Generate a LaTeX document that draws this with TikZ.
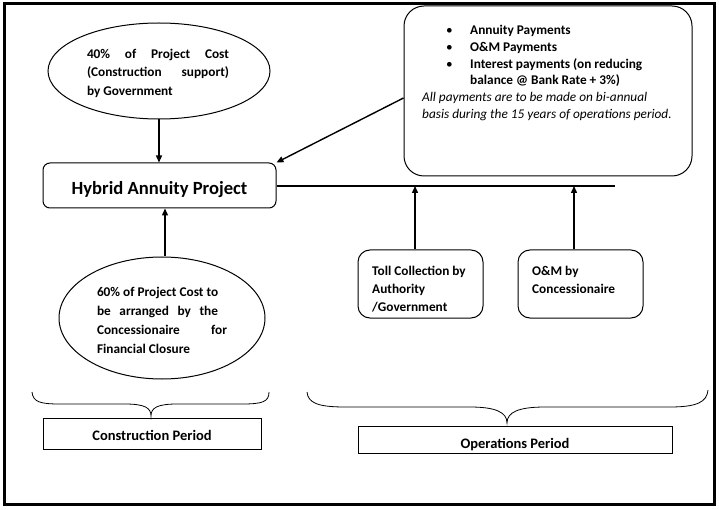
\documentclass[tikz,border=0pt]{standalone}
\usepackage{fontspec}
\setmainfont{Carlito}
\usetikzlibrary{arrows.meta,shapes.geometric}
\begin{document}
\begin{tikzpicture}[x=1pt,y=-1pt,
  body/.style={font=\fontsize{13.3}{18.5}\selectfont\bfseries},
  rbox/.style={draw,line width=1pt,rounded corners=7pt},
  oval/.style={draw,line width=1pt,ellipse,inner sep=0pt},
  plainbox/.style={draw,line width=0.8pt,inner sep=0pt},
  arr/.style={line width=1.4pt,-{Triangle[length=7pt,width=6pt]}},
  ln/.style={line width=1.4pt},
  brace/.style={line width=0.8pt}]
\useasboundingbox (0,0) rectangle (719,510);
\draw[line width=3pt] (4.5,3.5) rectangle (714,504.5);

% top ellipse
\node[oval,minimum width=222pt,minimum height=96pt] (gov) at (159,71) {};
\node[body,anchor=center,align=left,inner sep=0pt] (govt) at (158,73)
  {\makebox[142pt][s]{40\% of Project Cost}\\
   \makebox[142pt][s]{(Construction support)}\\
   by Government\hfill\null};

% hybrid annuity project
\node[rbox,minimum width=233pt,minimum height=45pt,inner sep=0pt,
  font=\fontsize{18.6}{20}\selectfont\bfseries] (hap) at (159.5,185.5)
  {\raisebox{-9.5pt}[0pt][0pt]{Hybrid Annuity Project}};

% bottom ellipse
\node[oval,minimum width=206pt,minimum height=122pt] (con) at (162,318) {};
\node[body,anchor=center,align=left,inner sep=0pt,
  font=\fontsize{13.3}{19}\selectfont\bfseries] (cont) at (162,320)
  {\makebox[130pt][l]{60\% of Project Cost to}\\
   \makebox[121pt][s]{be arranged by the}\hfill\null\\
   \makebox[130pt][s]{Concessionaire for}\\
   Financial Closure\hfill\null};

% payments box
\node[draw,line width=1pt,rounded corners=20pt,minimum width=288pt,minimum height=170pt,inner sep=0pt]
  (pay) at (548,91) {};
\node[anchor=north west,inner sep=0pt,align=left,
  font=\fontsize{13.3}{16.8}\selectfont] (payt) at (422,25)
  {\hspace*{24pt}\makebox[24pt][l]{\textbullet}\textbf{Annuity Payments}\\
   \hspace*{24pt}\makebox[24pt][l]{\textbullet}\textbf{O\&M Payments}\\
   \hspace*{24pt}\makebox[24pt][l]{\textbullet}\textbf{Interest payments (on reducing}\\
   \hspace*{48pt}\textbf{balance @ Bank Rate + 3\%)}\\
   \makebox[225pt][s]{\itshape All payments are to be made on bi-annual}\\
   \textit{basis during the 15 years of operations period.}};

% toll and O&M boxes
\node[rbox,rounded corners=12pt,minimum width=125pt,minimum height=68pt,inner sep=0pt] (toll) at (420.5,284) {};
\node[body,anchor=north west,align=left,inner sep=0pt,font=\fontsize{13.3}{18}\selectfont\bfseries]
  (tollt) at (372,266) {Toll Collection by\\Authority\\/Government};
\node[rbox,rounded corners=12pt,minimum width=125pt,minimum height=68pt,inner sep=0pt] (om) at (580.5,284) {};
\node[body,anchor=north west,align=left,inner sep=0pt,font=\fontsize{13.3}{18}\selectfont\bfseries]
  (omt) at (532,266) {O\&M by\\Concessionaire};

% connectors
\draw[arr] (gov.south) -- (gov.south |- hap.north);
\draw[arr] (con.north -| 165,0) -- (hap.south -| 165,0);
\coordinate (lineend) at (615,186);
\draw[ln] (hap.east |- lineend) -- (lineend);
\draw[arr] (pay.west |- 0,98) -- (hap.north east);
\draw[arr] (toll.north -| 415,0) -- (415,186);
\draw[arr] (om.north -| 574,0) -- (574,186);

% braces
\draw[brace] (32,392) .. controls (33,402) and (40,404) .. (60,404) -- (125,404)
  .. controls (145,404) and (151,408) .. (151,416)
  .. controls (151,408) and (157,404) .. (177,404) -- (242,404)
  .. controls (262,404) and (269,402) .. (269,392);
\draw[brace] (307,392) .. controls (308,403) and (318,407) .. (345,407) -- (470,407)
  .. controls (495,407) and (507,412) .. (507,423)
  .. controls (507,412) and (519,407) .. (545,407) -- (670,407)
  .. controls (697,407) and (707,402) .. (708,390);

% period boxes
\node[plainbox,minimum width=218pt,minimum height=31pt,
  font=\fontsize{14.5}{16}\selectfont\bfseries] (cp) at (152,433.5)
  {\raisebox{-7pt}[0pt][0pt]{Construction Period}};
\node[plainbox,minimum width=314pt,minimum height=27pt,
  font=\fontsize{14.5}{16}\selectfont\bfseries] (op) at (515,439.5)
  {\raisebox{-8.5pt}[0pt][0pt]{Operations Period}};
\end{tikzpicture}
\end{document}
